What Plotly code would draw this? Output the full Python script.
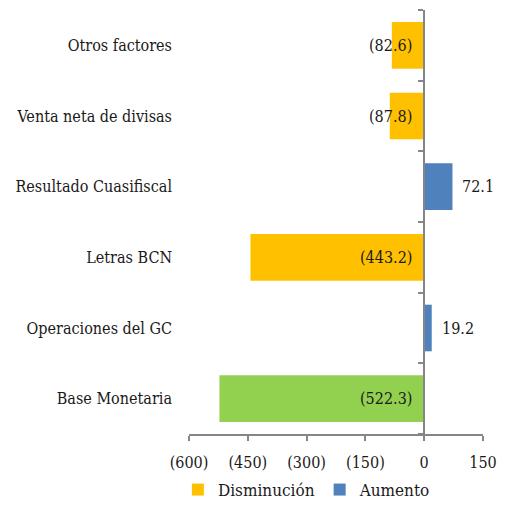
import plotly.graph_objects as go

categories = ["Base Monetaria", "Operaciones del GC", "Letras BCN",
              "Resultado Cuasifiscal", "Venta neta de divisas", "Otros factores"]
values = [-522.3, 19.2, -443.2, 72.1, -87.8, -82.6]
groups = ["base", "aumento", "disminucion", "aumento", "disminucion", "disminucion"]
tick_vals = [-600, -450, -300, -150, 0, 150]
tick_text = ["(600)", "(450)", "(300)", "(150)", "0", "150"]

colors = {"disminucion": "#FFC000", "aumento": "#4F81BD", "base": "#92D050"}
names = {"disminucion": "Disminución", "aumento": "Aumento", "base": "Base Monetaria"}

FONT = "DejaVu Serif Condensed, DejaVu Serif, serif"
fig = go.Figure()
for g in ["disminucion", "aumento", "base"]:
    xs = [v if gg == g else None for v, gg in zip(values, groups)]
    fig.add_trace(go.Bar(
        x=xs, y=categories, orientation="h", name=names[g],
        marker=dict(color=colors[g], line=dict(width=0)),
        width=0.66, showlegend=(g != "base"), hoverinfo="skip",
    ))

# invisible trace to host the zero-positioned category axis
fig.add_trace(go.Scatter(x=[0] * len(categories), y=categories, yaxis="y2",
                         mode="markers", marker=dict(opacity=0),
                         showlegend=False, hoverinfo="skip"))

def fmt(v):
    return f"({abs(v):.1f})" if v < 0 else f"{v:.1f}"

for c, v in zip(categories, values):
    if v < 0:
        fig.add_annotation(x=0, y=c, text=fmt(v), showarrow=False,
                           xanchor="right", xshift=-10, yanchor="middle",
                           font=dict(family=FONT, size=16, color="#1a1a1a"))
    else:
        fig.add_annotation(x=v, y=c, text=fmt(v), showarrow=False,
                           xanchor="left", xshift=8, yanchor="middle",
                           font=dict(family=FONT, size=16, color="#1a1a1a"))

fig.update_layout(
    width=490, height=500,
    margin=dict(l=181, r=15, t=2, b=74, autoexpand=False),
    paper_bgcolor="white", plot_bgcolor="white",
    barmode="relative",
    font=dict(family=FONT, size=16, color="#1a1a1a"),
    xaxis=dict(range=[-600, 150], tickvals=tick_vals, ticktext=tick_text,
               showgrid=False, zeroline=False, showline=True,
               linecolor="#868686", linewidth=1.5, ticks="outside",
               ticklen=5, tickcolor="#868686", tickwidth=1.5,
               ticklabelstandoff=8, ticklabeloverflow="allow",
               automargin=False),
    yaxis=dict(type="category", categoryorder="array", categoryarray=categories,
               range=[-0.5, 5.5], showgrid=False, zeroline=False,
               showline=False, ticks="", ticklabelstandoff=16, automargin=False),
    yaxis2=dict(type="category", categoryorder="array", categoryarray=categories,
                range=[-0.5, 5.5], overlaying="y", anchor="free", position=0.8,
                side="left", showgrid=False, zeroline=False, showline=True,
                linecolor="#868686", linewidth=1.5, ticks="outside",
                tickson="boundaries", ticklen=5, tickcolor="#868686",
                tickwidth=1.5, showticklabels=False, automargin=False),
    legend=dict(orientation="h", x=0.401, xanchor="center", y=-74 / 424,
                yanchor="bottom", font=dict(family=FONT, size=17),
                traceorder="normal"),
)

fig.write_html("out.html")
